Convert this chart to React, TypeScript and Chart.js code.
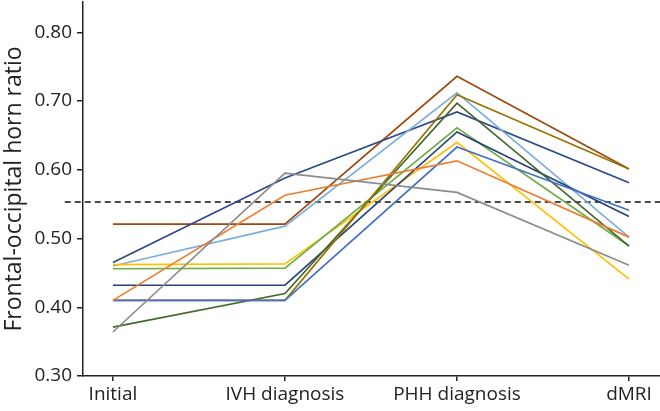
import React, { useEffect, useRef } from "react";
import { Chart, registerables } from "chart.js";

Chart.register(...registerables);

const CATEGORIES = ["Initial", "IVH diagnosis", "PHH diagnosis", "dMRI"];
const Y_TICKS = [0.3, 0.4, 0.5, 0.6, 0.7, 0.8];
const THRESHOLD = 0.553;

const brown = [0.521, 0.521, 0.736, 0.601];
const navy = [0.465, 0.588, 0.684, 0.581];
const lightBlue = [0.46, 0.518, 0.712, 0.502];
const yellow = [0.462, 0.463, 0.64, 0.441];
const lightGreen = [0.456, 0.457, 0.661, 0.489];
const navy2 = [0.432, 0.432, 0.655, 0.532];
const orange = [0.41, 0.563, 0.613, 0.502];
const olive = [0.41, 0.41, 0.709, 0.601];
const mediumBlue = [0.41, 0.41, 0.633, 0.541];
const darkGreen = [0.371, 0.42, 0.697, 0.489];
const gray = [0.364, 0.595, 0.567, 0.461];

const SERIES: { name: string; values: number[]; color: string }[] = [
  { name: "gray", values: gray, color: "#8C8C8C" },
  { name: "orange", values: orange, color: "#ED7D31" },
  { name: "mediumBlue", values: mediumBlue, color: "#4472C4" },
  { name: "olive", values: olive, color: "#997300" },
  { name: "darkGreen", values: darkGreen, color: "#43682B" },
  { name: "navy2", values: navy2, color: "#264478" },
  { name: "lightGreen", values: lightGreen, color: "#70AD47" },
  { name: "yellow", values: yellow, color: "#FFC000" },
  { name: "lightBlue", values: lightBlue, color: "#7CAFDD" },
  { name: "navy", values: navy, color: "#2B4A8A" },
  { name: "brown", values: brown, color: "#9E480E" },
];

export default function App() {
  const ref = useRef<HTMLCanvasElement | null>(null);

  useEffect(() => {
    if (!ref.current) return;
    const datasets: any[] = SERIES.map((s) => ({
      label: s.name,
      data: s.values.map((v, i) => ({ x: i, y: v })),
      borderColor: s.color,
      backgroundColor: s.color,
      borderWidth: 1.7,
      pointRadius: 0,
      tension: 0,
      fill: false,
    }));
    datasets.push({
      label: "threshold",
      data: [
        { x: -0.28, y: THRESHOLD },
        { x: 3.2, y: THRESHOLD },
      ],
      borderColor: "#111",
      borderWidth: 1.5,
      borderDash: [6, 4],
      pointRadius: 0,
      clip: false,
    });

    const axisColor = "#222";
    const chart = new Chart(ref.current, {
      type: "line",
      data: { datasets },
      options: {
        animation: false,
        responsive: false,
        maintainAspectRatio: false,
        layout: { padding: { top: 2, right: 0, bottom: 0, left: 0 } },
        plugins: { legend: { display: false }, tooltip: { enabled: false } },
        scales: {
          x: {
            type: "linear",
            min: -0.174,
            max: 3.18,
            afterBuildTicks: (axis: any) => {
              axis.ticks = CATEGORIES.map((_, i) => ({ value: i }));
            },
            afterFit: (axis: any) => {
              axis.height = 35;
              axis.paddingLeft = 0;
              axis.paddingRight = 0;
            },
            ticks: {
              callback: (v: any) => CATEGORIES[Math.round(Number(v))] ?? "",
              color: "#222",
              font: { family: "Open Sans", size: 19 },
              padding: 2,
              maxRotation: 0,
              autoSkip: false,
            },
            grid: {
              drawOnChartArea: false,
              drawTicks: true,
              tickLength: 5,
              color: axisColor,
              lineWidth: 1.5,
            },
            border: { display: true, color: axisColor, width: 1.5 },
          },
          y: {
            type: "linear",
            min: 0.3,
            max: 0.844,
            afterBuildTicks: (axis: any) => {
              axis.ticks = Y_TICKS.map((v) => ({ value: v }));
            },
            afterFit: (axis: any) => {
              axis.width = 83;
              axis.paddingTop = 0;
              axis.paddingBottom = 0;
            },
            ticks: {
              callback: (v: any) => Number(v).toFixed(2),
              color: "#222",
              font: { family: "Open Sans", size: 19 },
              padding: 5,
            },
            grid: {
              drawOnChartArea: false,
              drawTicks: true,
              tickLength: 6,
              color: axisColor,
              lineWidth: 1.5,
            },
            border: { display: true, color: axisColor, width: 1.5 },
            title: {
              display: true,
              text: "Frontal-occipital horn ratio",
              color: "#222",
              font: { family: "Open Sans", size: 23 },
              padding: { top: 1, bottom: 0 },
            },
          },
        },
      },
    });
    return () => chart.destroy();
  }, []);

  return (
    <div style={{ position: "fixed", left: 0, top: 0, width: 660, height: 411, background: "#fff" }}>
      <canvas ref={ref} width={660} height={411} style={{ width: 660, height: 411 }} />
    </div>
  );
}
